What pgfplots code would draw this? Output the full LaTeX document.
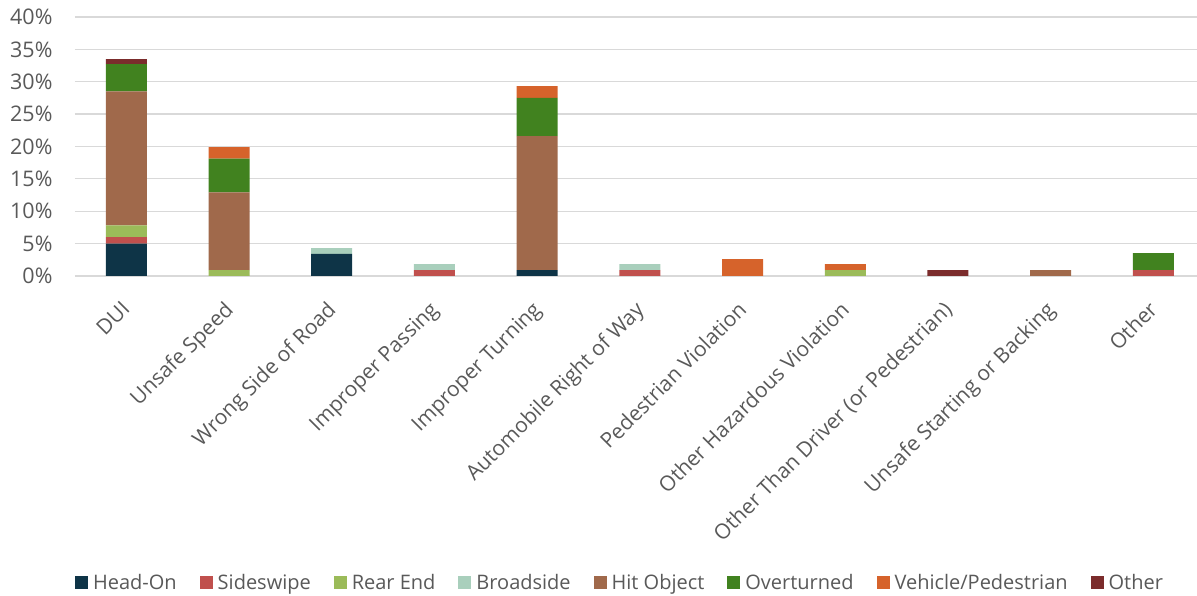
\documentclass[border=0pt]{standalone}
\usepackage{fontspec}
\setmainfont{Open Sans}
\usepackage{pgfplots}
\pgfplotsset{compat=1.18}
\definecolor{txt}{HTML}{595959}
\definecolor{gridc}{HTML}{D9D9D9}
\definecolor{cHead}{HTML}{0E3447}
\definecolor{cSide}{HTML}{C0504D}
\definecolor{cRear}{HTML}{9BBB59}
\definecolor{cBroad}{HTML}{A9CFBC}
\definecolor{cHit}{HTML}{A0694B}
\definecolor{cOver}{HTML}{41821F}
\definecolor{cVeh}{HTML}{D6632B}
\definecolor{cOther}{HTML}{7B2C2C}
\begin{document}
\begin{tikzpicture}[x=1pt,y=1pt]
\begin{axis}[name=ax, at={(0,0)}, anchor=south west,
  scale only axis, width=1122pt, height=259pt,
  xmin=-0.5, xmax=10.42, ymin=0, ymax=40,
  ybar stacked, bar width=41pt,
  axis x line=bottom, axis y line=left,
  x axis line style={draw=gridc, line width=1.3pt, -},
  y axis line style={draw=none},
  major tick length=0pt,
  ymajorgrids, grid style={draw=gridc, line width=1.3pt},
  ytick={0,5,...,40},
  yticklabel={\pgfmathprintnumber{\tick}\%},
  xtick={0,...,10},
  xticklabels={DUI,Unsafe Speed,Wrong Side of Road,Improper Passing,Improper Turning,Automobile Right of Way,Pedestrian Violation,Other Hazardous Violation,Other Than Driver (or Pedestrian),Unsafe Starting or Backing,Other},
  xticklabel style={xshift=-6pt, yshift=-21pt, rotate=45, anchor=north east, inner sep=2pt, font=\fontsize{21}{25}\selectfont},
  yticklabel style={anchor=east, xshift=-19pt, font=\fontsize{21.5}{25}\selectfont},
  tick label style={text=txt},
  /pgf/number format/assume math mode=true,
  legend style={at={(0.486,-1.185)}, anchor=center, draw=none, legend columns=-1,
    font=\fontsize{20}{24}\selectfont, text=txt,
    /tikz/every odd column/.append style={column sep=3pt},
    /tikz/every even column/.append style={column sep=21pt}},
  legend image code/.code={\fill[#1] (0pt,-6.5pt) rectangle (13pt,6.5pt);},
  every axis plot/.append style={draw=none},
]
\addplot[fill=cHead] coordinates {(0,5.0) (1,0) (2,3.4) (3,0) (4,0.9) (5,0) (6,0) (7,0) (8,0) (9,0) (10,0)};
\addplot[fill=cSide] coordinates {(0,1.0) (1,0) (2,0) (3,0.9) (4,0) (5,0.9) (6,0) (7,0) (8,0) (9,0) (10,0.9)};
\addplot[fill=cRear] coordinates {(0,1.8) (1,0.9) (2,0) (3,0) (4,0) (5,0) (6,0) (7,0.9) (8,0) (9,0) (10,0)};
\addplot[fill=cBroad] coordinates {(0,0) (1,0) (2,0.9) (3,0.9) (4,0) (5,0.9) (6,0) (7,0) (8,0) (9,0) (10,0)};
\addplot[fill=cHit] coordinates {(0,20.7) (1,12.0) (2,0) (3,0) (4,20.7) (5,0) (6,0) (7,0) (8,0) (9,0.9) (10,0)};
\addplot[fill=cOver] coordinates {(0,4.2) (1,5.2) (2,0) (3,0) (4,5.9) (5,0) (6,0) (7,0) (8,0) (9,0) (10,2.6)};
\addplot[fill=cVeh] coordinates {(0,0) (1,1.8) (2,0) (3,0) (4,1.8) (5,0) (6,2.6) (7,0.9) (8,0) (9,0) (10,0)};
\addplot[fill=cOther] coordinates {(0,0.8) (1,0) (2,0) (3,0) (4,0) (5,0) (6,0) (7,0) (8,0.9) (9,0) (10,0)};
\legend{Head-On,Sideswipe,Rear End,Broadside,Hit Object,Overturned,Vehicle/Pedestrian,Other}
\end{axis}
\pgfresetboundingbox
\path[use as bounding box] ([xshift=-75pt,yshift=-320pt]ax.south west) rectangle ([xshift=0.5pt,yshift=17pt]ax.north east);
\end{tikzpicture}
\end{document}
